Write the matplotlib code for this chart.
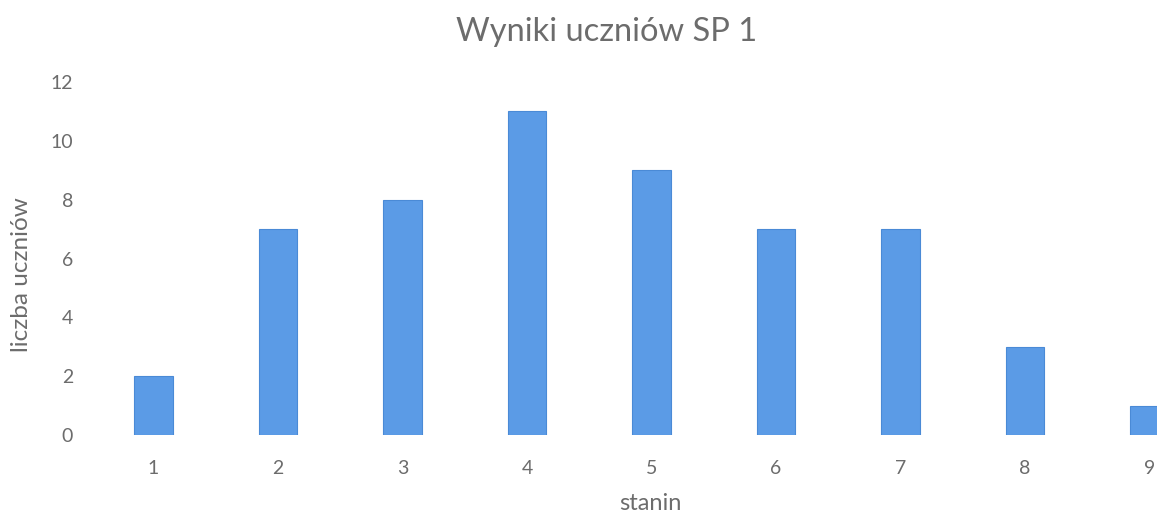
import matplotlib
matplotlib.use("Agg")
import matplotlib.pyplot as plt

categories = ["1", "2", "3", "4", "5", "6", "7", "8", "9"]
values = [2, 7, 8, 11, 9, 7, 7, 3, 1]
yticks = [0, 2, 4, 6, 8, 10, 12]

plt.rcParams['font.family'] = ['Lato', 'DejaVu Sans']
text_color = "#6c6c6c"

W, H = 1157, 518
fig = plt.figure(figsize=(W / 100, H / 100), dpi=100)
left = 91 / W
right = 1212 / W
bottom = 1 - 435 / H
top = 1 - 82 / H
ax = fig.add_axes([left, bottom, right - left, top - bottom])

x = list(range(len(categories)))
ax.bar(x, values, width=0.31, color="#5B9BE6", edgecolor="#4A8AD6", linewidth=0.8)
ax.set_xlim(-0.5, len(categories) - 0.5)
ax.set_ylim(0, 12)
ax.set_xticks(x)
ax.set_xticklabels(categories)
ax.set_yticks(yticks)
ax.set_yticklabels([str(v) for v in yticks])
for s in ax.spines.values():
    s.set_visible(False)
ax.tick_params(axis='both', length=0, colors=text_color, labelsize=14)
ax.tick_params(axis='y', pad=13)
ax.tick_params(axis='x', pad=18)

fig.text(607 / W, 1 - 32 / H, "Wyniki uczniów SP 1", ha='center', va='center',
         fontsize=23.5, color=text_color)
fig.text(650 / W, 1 - 503 / H, "stanin", ha='center', va='center',
         fontsize=17, color=text_color)
fig.text(22 / W, 1 - 275 / H, "liczba uczniów", ha='center', va='center',
         rotation=90, fontsize=17.5, color=text_color)

fig.savefig("out.png", dpi=100)
